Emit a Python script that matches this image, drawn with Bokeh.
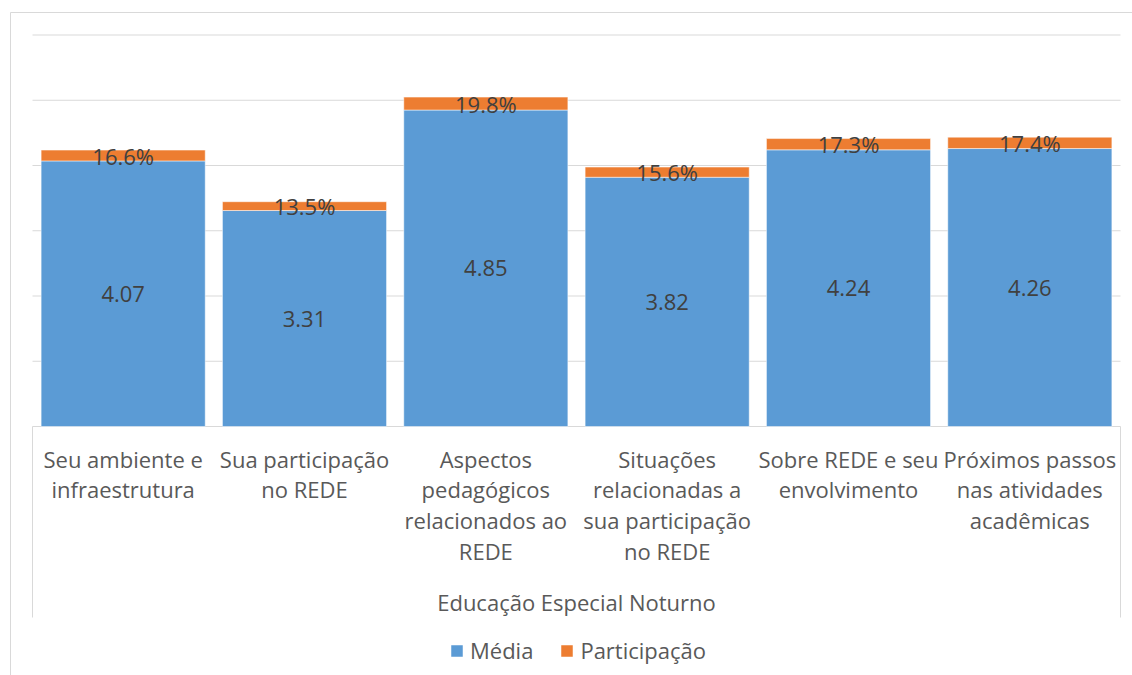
from bokeh.plotting import figure
from bokeh.models import ColumnDataSource, Range1d, Legend, LegendItem
from bokeh.embed import file_html
from bokeh.resources import INLINE
from bokeh.core.properties import value

categories = [
    "Seu ambiente e\ninfraestrutura",
    "Sua participação\nno REDE",
    "Aspectos\npedagógicos\nrelacionados ao\nREDE",
    "Situações\nrelacionadas a\nsua participação\nno REDE",
    "Sobre REDE e seu\nenvolvimento",
    "Próximos passos\nnas atividades\nacadêmicas",
]
media = [4.07, 3.31, 4.85, 3.82, 4.24, 4.26]
media_labels = ["4.07", "3.31", "4.85", "3.82", "4.24", "4.26"]
participacao = [0.166, 0.135, 0.198, 0.156, 0.173, 0.174]
participacao_labels = ["16.6%", "13.5%", "19.8%", "15.6%", "17.3%", "17.4%"]
group_label = "Educação Especial Noturno"
series_names = ["Média", "Participação"]
grid_ticks = [0, 1, 2, 3, 4, 5, 6]

BLUE = "#5B9BD5"
ORANGE = "#ED7D31"
GRID = "#D9D9D9"
FONT = "Open Sans"

# layout (pixels of the canvas)
W, H = 1132, 675
PLOT_L, PLOT_R = 32, 1120      # plot-area left/right in canvas px
PLOT_T, PLOT_B = 34.5, 426     # plot-area top/bottom in canvas px
AXIS_DROP = 191                # length of the category-axis frame lines
Y_MAX = 6

n = len(categories)
sx = (PLOT_R - PLOT_L) / n
sy = (PLOT_B - PLOT_T) / Y_MAX
x_start = -PLOT_L / sx
x_end = n + (W - PLOT_R) / sx
y_end = Y_MAX + PLOT_T / sy
y_start = -(H - PLOT_B) / sy


def px_x(c):
    return x_start + c / sx


def px_y(r):
    return y_end - r / sy


xs = [i + 0.5 for i in range(n)]
tops = [m + p for m, p in zip(media, participacao)]

src = ColumnDataSource(dict(
    x=xs, media=media, part=participacao, top=tops,
    mid_media=[m / 2 for m in media],
    mid_part=[m + p / 2 for m, p in zip(media, participacao)],
    lab_media=media_labels, lab_part=participacao_labels, cat=categories,
))

p = figure(width=W, height=H, x_range=Range1d(x_start, x_end), y_range=Range1d(y_start, y_end),
           x_axis_location=None, y_axis_location=None, toolbar_location=None,
           output_backend="svg", min_border=0)
p.outline_line_color = None
p.background_fill_color = "white"
p.border_fill_color = "white"
p.xgrid.visible = False
p.ygrid.visible = False

# chart-area border (top & left)
p.segment(x0=[px_x(10), px_x(10)], y0=[px_y(12), px_y(12)], x1=[px_x(W + 10), px_x(10)],
          y1=[px_y(12), px_y(H + 10)], line_color=GRID, line_width=1)

# gridlines and baseline
p.segment(x0=[0] * len(grid_ticks), x1=[n] * len(grid_ticks), y0=grid_ticks, y1=grid_ticks,
          line_color=GRID, line_width=1)
# category-axis frame lines
drop = AXIS_DROP / sy
p.segment(x0=[0, n], x1=[0, n], y0=[0, 0], y1=[-drop, -drop], line_color=GRID, line_width=1)

r1 = p.vbar(x="x", bottom=0, top="media", width=0.905, source=src,
            fill_color=BLUE, line_color="white", line_width=0.5)
r2 = p.vbar(x="x", bottom="media", top="top", width=0.905, source=src,
            fill_color=ORANGE, line_color="white", line_width=0.5)

p.text(x="x", y="mid_media", text="lab_media", source=src, text_align="center",
       text_baseline="middle", text_font=value(FONT), text_font_size="22px",
       text_color="#404040")
p.text(x="x", y="mid_part", text="lab_part", source=src, text_align="center",
       text_baseline="middle", text_font=value(FONT), text_font_size="22px",
       text_color="#404040")

# category labels
p.text(x="x", y=0, text="cat", source=src, text_align="center", text_baseline="top",
       y_offset=17, text_font=value(FONT), text_font_size="22px", text_color="#595959",
       text_line_height=1.03)
# group label
p.text(x=[n / 2], y=[0], text=[group_label], text_align="center", text_baseline="middle",
       y_offset=175, text_font=value(FONT), text_font_size="22px", text_color="#595959")

legend = Legend(items=[LegendItem(label=series_names[0], renderers=[r1]),
                       LegendItem(label=series_names[1], renderers=[r2])],
                location=(449, 10), orientation="horizontal",
                glyph_width=15, glyph_height=15, label_standoff=6, spacing=26,
                padding=0, margin=0, border_line_color=None, background_fill_alpha=0,
                label_text_font=FONT, label_text_font_size="22px", label_text_color="#595959")
p.add_layout(legend)

open("out.html", "w").write(file_html(p, INLINE))
